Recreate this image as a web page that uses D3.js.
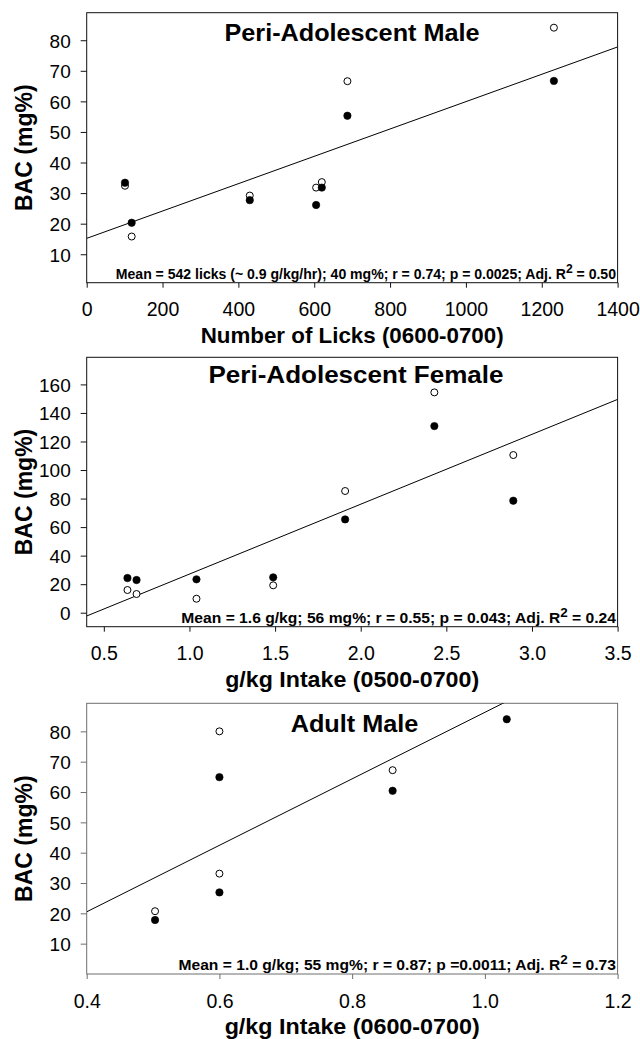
<!DOCTYPE html>
<html>
<head>
<meta charset="utf-8">
<script src="https://cdn.jsdelivr.net/npm/d3@7"></script>
<style>
  body { margin: 0; background: #fff; }
  svg { display: block; }
</style>
</head>
<body>
<svg id="fig" width="640" height="1039"></svg>
<script>
// ---------- Peri-adolescent males: licks vs BAC ----------
const maleLicks       = [101, 118.6, 430, 605, 620, 687.5, 1232];
const maleBacOpen     = [32.4, 15.8, 29.2, 31.8, 33.6, 66.6, 84.1];
const maleBacFilled   = [33.4, 20.3, 27.7, 26.1, 31.8, 55.3, 66.7];
const maleFitX        = [0, 1400];
const maleFitY        = [15.2, 77.8];
const maleXDomain     = [0, 1400];
const maleYDomain     = [0.7, 89];
const maleXTicks      = [0, 200, 400, 600, 800, 1000, 1200, 1400];
const maleYTicks      = [10, 20, 30, 40, 50, 60, 70, 80];
const maleStats       = ["Mean = 542 licks (~ 0.9 g/kg/hr); 40 mg%; r = 0.74; p = 0.0025; Adj. R", "2", " = 0.50"];

// ---------- Peri-adolescent females: g/kg vs BAC ----------
const femaleIntake     = [0.638, 0.691, 1.041, 1.489, 1.909, 2.43, 2.891];
const femaleBacOpen    = [15.9, 13.1, 9.8, 19.2, 85.3, 154.4, 110.5];
const femaleBacFilled  = [24.3, 22.9, 23.4, 24.8, 65.4, 130.8, 78.5];
const femaleFitX       = [0.4, 3.5];
const femaleFitY       = [-2.3, 149.5];
const femaleXDomain    = [0.4, 3.5];
const femaleYDomain    = [-9.8, 179];
const femaleXTicks     = [0.5, 1.0, 1.5, 2.0, 2.5, 3.0, 3.5];
const femaleYTicks     = [0, 20, 40, 60, 80, 100, 120, 140, 160];
const femaleStats      = ["Mean = 1.6 g/kg; 56 mg%; r = 0.55; p = 0.043; Adj. R", "2", " = 0.24"];

// ---------- Adult males: g/kg vs BAC ----------
const adultIntakeOpen   = [0.503, 0.6, 0.6, 0.861];
const adultBacOpen      = [20.7, 80.0, 33.1, 67.2];
const adultIntakeFilled = [0.503, 0.6, 0.6, 0.861, 1.033];
const adultBacFilled    = [17.8, 64.9, 26.9, 60.4, 84.0];
const adultFitX         = [0.4, 1.2];
const adultFitY         = [20.5, 108.2];
const adultXDomain      = [0.4, 1.2];
const adultYDomain      = [0, 89.25];
const adultXTicks       = [0.4, 0.6, 0.8, 1.0, 1.2];
const adultYTicks       = [10, 20, 30, 40, 50, 60, 70, 80];
const adultStats        = ["Mean = 1.0 g/kg; 55 mg%; r = 0.87; p =0.0011; Adj. R", "2", " = 0.73"];

const yTitle = "BAC (mg%)";

const panels = [
  {
    title: "Peri-Adolescent Male", xTitle: "Number of Licks (0600-0700)",
    openX: maleLicks, openY: maleBacOpen, filledX: maleLicks, filledY: maleBacFilled,
    fitX: maleFitX, fitY: maleFitY, xDomain: maleXDomain, yDomain: maleYDomain,
    xTicks: maleXTicks, yTicks: maleYTicks, xFormat: d3.format("d"), stats: maleStats,
    top: 12.7, bottom: 282.7, frame: "#111",
    titleX: 352, titleY: 40.7, titleW: 255, xTitleW: 303, statsY: 279.3, statsW: 501
  },
  {
    title: "Peri-Adolescent Female", xTitle: "g/kg Intake (0500-0700)",
    openX: femaleIntake, openY: femaleBacOpen, filledX: femaleIntake, filledY: femaleBacFilled,
    fitX: femaleFitX, fitY: femaleFitY, xDomain: femaleXDomain, yDomain: femaleYDomain,
    xTicks: femaleXTicks, yTicks: femaleYTicks, xFormat: d3.format(".1f"), stats: femaleStats,
    top: 357.3, bottom: 626.7, frame: "#111",
    titleX: 356, titleY: 383.3, titleW: 295, xTitleW: 254, statsY: 623.3, statsW: 435
  },
  {
    title: "Adult Male", xTitle: "g/kg Intake (0600-0700)",
    openX: adultIntakeOpen, openY: adultBacOpen, filledX: adultIntakeFilled, filledY: adultBacFilled,
    fitX: adultFitX, fitY: adultFitY, xDomain: adultXDomain, yDomain: adultYDomain,
    xTicks: adultXTicks, yTicks: adultYTicks, xFormat: d3.format(".1f"), stats: adultStats,
    top: 703.3, bottom: 974, frame: "#6e6e6e",
    titleX: 354.5, titleY: 731.7, titleW: 127.6, xTitleW: 255, statsY: 970, statsW: 438
  }
];

const plotLeft = 86.7, plotRight = 617.6;
const sans = "'Liberation Sans', Arial, Helvetica, sans-serif";
const narrow = "'Liberation Sans Narrow', 'Arial Narrow', 'Liberation Sans', Arial, sans-serif";
const svg = d3.select("#fig");

panels.forEach((p, i) => {
  const x = d3.scaleLinear().domain(p.xDomain).range([plotLeft, plotRight]);
  const y = d3.scaleLinear().domain(p.yDomain).range([p.bottom, p.top]);
  const g = svg.append("g");

  const clipId = "clip" + i;
  svg.append("clipPath").attr("id", clipId)
    .append("rect")
    .attr("x", plotLeft).attr("y", p.top)
    .attr("width", plotRight - plotLeft).attr("height", p.bottom - p.top);

  // y axis
  const yAxis = g.append("g").attr("transform", `translate(${plotLeft},0)`)
    .call(d3.axisLeft(y).tickValues(p.yTicks).tickSize(6).tickPadding(10).tickFormat(d3.format("d")));
  yAxis.select(".domain").remove();
  yAxis.selectAll(".tick line").attr("stroke", p.frame);
  yAxis.selectAll(".tick text")
    .attr("font-family", sans).attr("font-size", 19).attr("fill", "#000")
    .attr("dy", null).attr("y", 6.8);

  // x axis
  const xAxis = g.append("g").attr("transform", `translate(0,${p.bottom})`)
    .call(d3.axisBottom(x).tickValues(p.xTicks).tickSize(5).tickFormat(p.xFormat));
  xAxis.select(".domain").remove();
  xAxis.selectAll(".tick line").attr("stroke", p.frame);
  xAxis.selectAll(".tick text")
    .attr("font-family", sans).attr("font-size", 19.5).attr("fill", "#000")
    .attr("dy", null).attr("y", 33.5);

  // frame
  g.append("rect")
    .attr("x", plotLeft).attr("y", p.top)
    .attr("width", plotRight - plotLeft).attr("height", p.bottom - p.top)
    .attr("fill", "none").attr("stroke", p.frame).attr("stroke-width", 1);

  const plot = g.append("g").attr("clip-path", `url(#${clipId})`);

  // regression line
  const fit = p.fitX.map((v, j) => [v, p.fitY[j]]);
  plot.append("path")
    .attr("d", d3.line().x(d => x(d[0])).y(d => y(d[1]))(fit))
    .attr("fill", "none").attr("stroke", "#000").attr("stroke-width", 1);

  // open markers first, filled markers drawn over them
  const open = p.openX.map((v, j) => [v, p.openY[j]]);
  plot.selectAll("circle.open").data(open).join("circle")
    .attr("class", "open")
    .attr("cx", d => x(d[0])).attr("cy", d => y(d[1])).attr("r", 3.5)
    .attr("fill", "#fff").attr("stroke", "#000").attr("stroke-width", 1);
  const filled = p.filledX.map((v, j) => [v, p.filledY[j]]);
  plot.selectAll("circle.filled").data(filled).join("circle")
    .attr("class", "filled")
    .attr("cx", d => x(d[0])).attr("cy", d => y(d[1])).attr("r", 3.7)
    .attr("fill", "#000").attr("stroke", "#000").attr("stroke-width", 0.6);

  // panel title
  g.append("text")
    .attr("x", p.titleX).attr("y", p.titleY)
    .attr("text-anchor", "middle")
    .attr("font-family", sans).attr("font-weight", "bold").attr("font-size", 24)
    .attr("textLength", p.titleW).attr("lengthAdjust", "spacingAndGlyphs")
    .text(p.title);

  // summary statistics line
  const stats = g.append("text")
    .attr("text-anchor", "end")
    .attr("font-family", narrow).attr("font-weight", "bold").attr("font-size", 14.5);
  stats.append("tspan").text(p.stats[0]);
  stats.append("tspan").attr("font-size", 12.5).attr("dy", -6).text(p.stats[1]);
  stats.append("tspan").attr("dy", 6).text(p.stats[2]);
  const w = stats.node().getBBox().width;
  stats.attr("transform", `translate(616,${p.statsY}) scale(${p.statsW / w},1)`);

  // x axis title
  g.append("text")
    .attr("x", (plotLeft + plotRight) / 2).attr("y", p.bottom + 60)
    .attr("text-anchor", "middle")
    .attr("font-family", sans).attr("font-weight", "bold").attr("font-size", 22.5)
    .attr("textLength", p.xTitleW).attr("lengthAdjust", "spacingAndGlyphs")
    .text(p.xTitle);

  // y axis title
  g.append("text")
    .attr("transform", `translate(31.7,${(p.top + p.bottom) / 2}) rotate(-90)`)
    .attr("text-anchor", "middle")
    .attr("font-family", sans).attr("font-weight", "bold").attr("font-size", 23)
    .text(yTitle);
});
</script>
</body>
</html>
